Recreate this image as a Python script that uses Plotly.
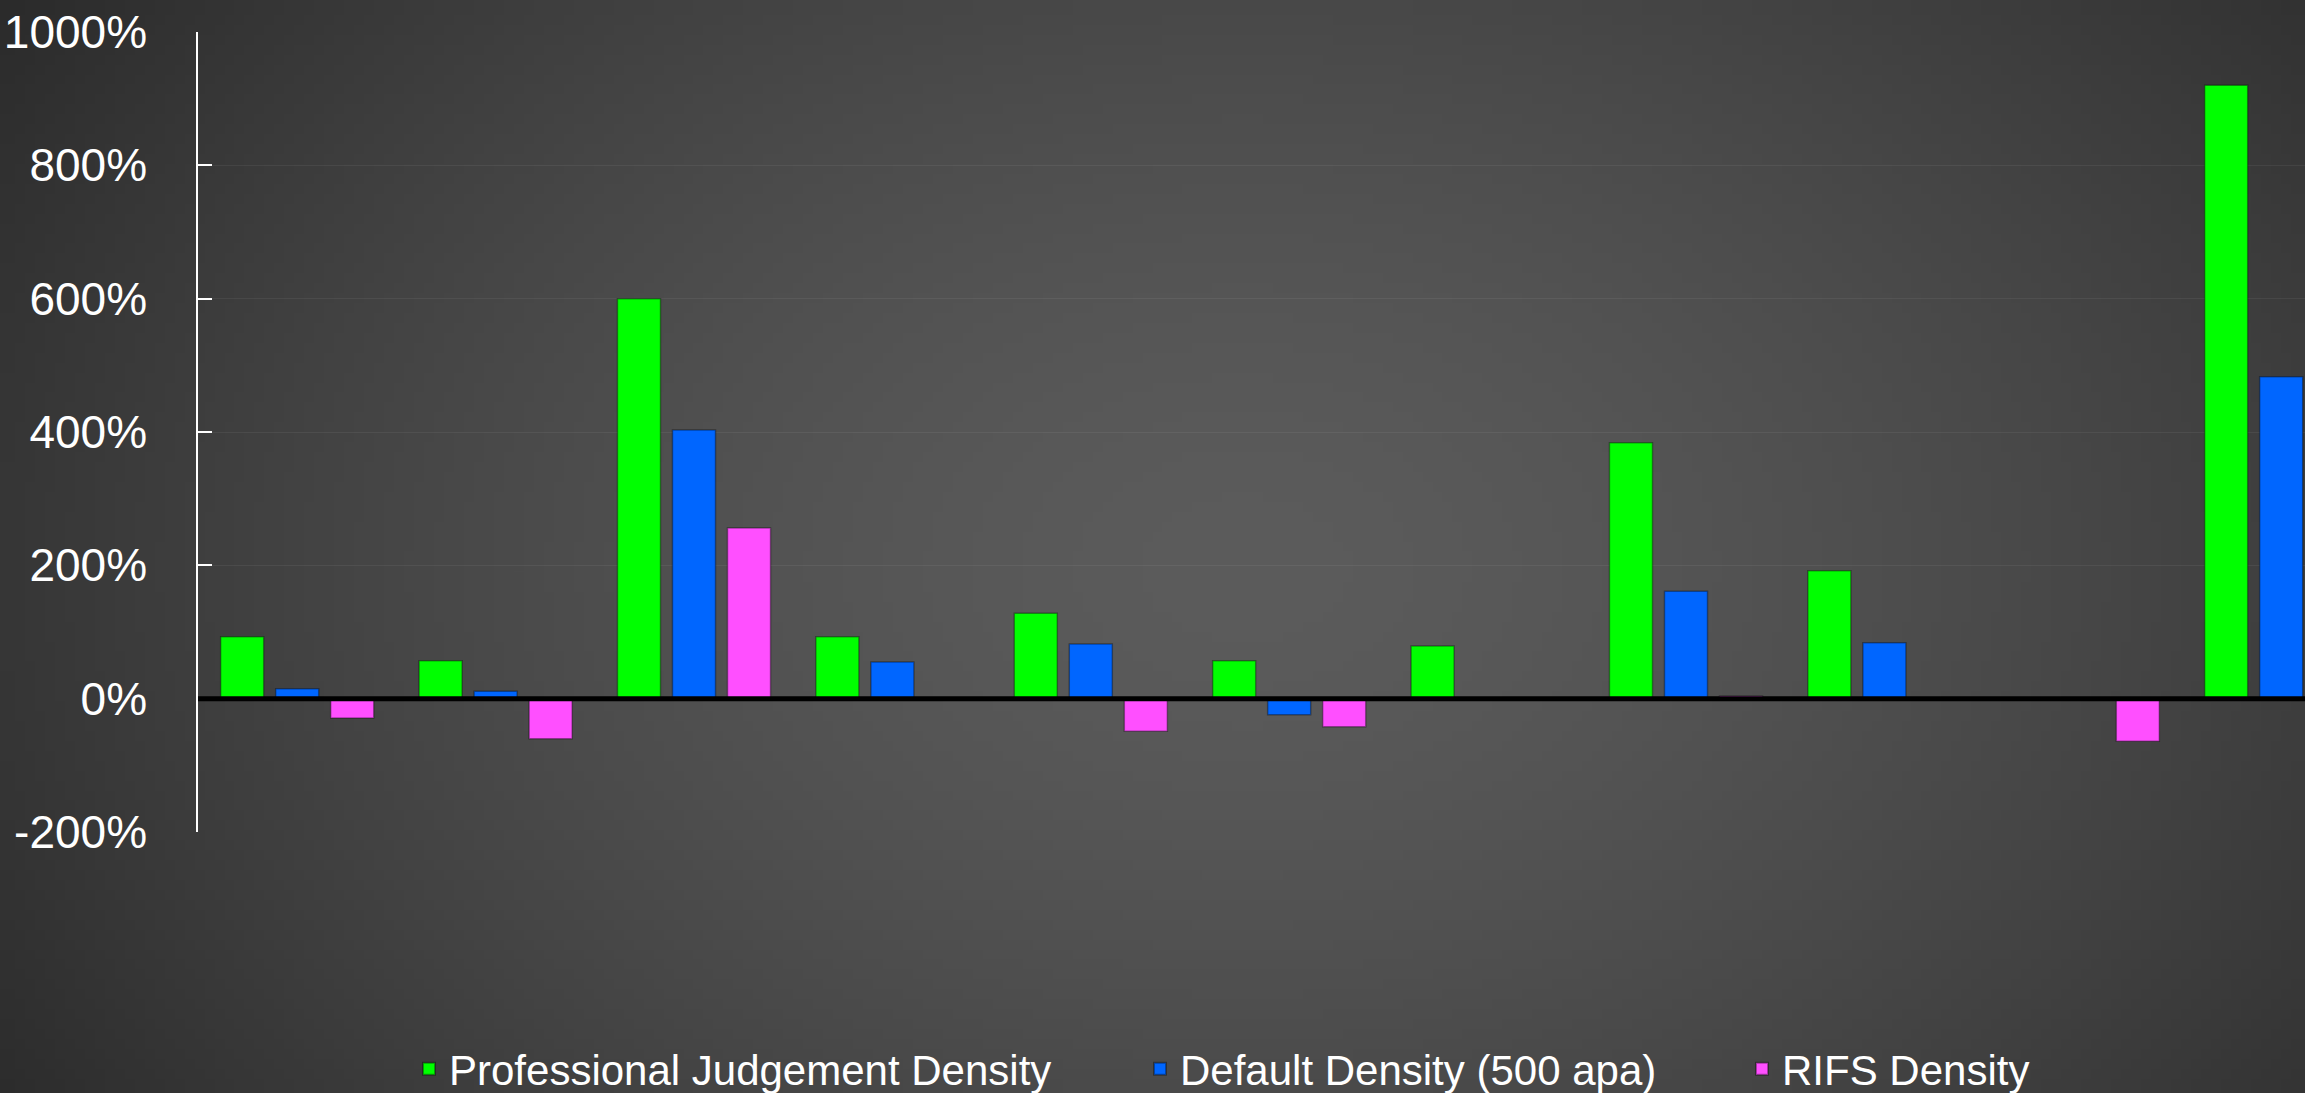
import base64, struct, zlib
import numpy as np
import plotly.graph_objects as go

# ---------------- data (percent) ----------------
categories = ["1", "2", "3", "4", "5", "6", "7", "8", "9", "10", "11"]
professional = [93, 57, 600, 93, 128, 57, 79, 384, 192, None, 920]
default_500 = [15, 11, 403, 55, 82, -24, None, 161, 84, None, 483]
rifs = [-29, -60, 256, None, -49, -42, None, 4, None, -64, None]
y_ticks = [-200, 0, 200, 400, 600, 800, 1000]
y_tick_labels = ["-200%", "0%", "200%", "400%", "600%", "800%", "1000%"]
series_names = ["Professional Judgement Density", "Default Density (500 apa)", "RIFS Density"]
series_colors = ["#00ff00", "#0066ff", "#ff4fff"]

W, H = 2305, 1093
ML, MR, MT, MB = 198, 0, 32, 261
PW, PH = W - ML - MR, H - MT - MB


# ---------------- radial background as PNG ----------------
def png_gray(arr):
    h, w = arr.shape
    raw = b"".join(b"\x00" + arr[i].tobytes() for i in range(h))

    def chunk(t, d):
        return struct.pack(">I", len(d)) + t + d + struct.pack(">I", zlib.crc32(t + d) & 0xFFFFFFFF)

    return (b"\x89PNG\r\n\x1a\n" + chunk(b"IHDR", struct.pack(">IIBBBBB", w, h, 8, 0, 0, 0, 0))
            + chunk(b"IDAT", zlib.compress(raw, 9)) + chunk(b"IEND", b""))


gw, gh = 231, 110
xx, yy = np.meshgrid(np.linspace(0, 1, gw), np.linspace(0, 1, gh))
d = np.sqrt(((xx - 0.54) / 0.6) ** 2 + ((yy - 0.52) / 0.9) ** 2)
val = np.clip(92 - 44 * np.clip(d, 0, 1.3) ** 1.5, 40, 255).astype(np.uint8)
bg_src = "data:image/png;base64," + base64.b64encode(png_gray(val)).decode()

fig = go.Figure()
legend_ids = ["legend2", "legend3", "legend4"]
for name, vals, color, lg in zip(series_names, [professional, default_500, rifs], series_colors, legend_ids):
    fig.add_trace(go.Bar(
        x=categories, y=vals, name=name, legend=lg,
        marker=dict(color=color, line=dict(color="rgba(0,0,0,0.35)", width=1.5)),
    ))

font_family = "Liberation Sans, Arial, Helvetica, sans-serif"
legend_common = dict(orientation="h", yanchor="middle", y=-(1069 - (MT + PH)) / PH, xanchor="left",
                     bgcolor="rgba(0,0,0,0)", font=dict(size=42, color="white", family=font_family),
                     itemsizing="constant")

fig.update_layout(
    width=W, height=H,
    margin=dict(l=ML, r=MR, t=MT, b=MB, pad=0, autoexpand=False),
    paper_bgcolor="#3c3c3c",
    plot_bgcolor="rgba(0,0,0,0)",
    barmode="group", bargap=0.168, bargroupgap=0.218,
    font=dict(family=font_family, color="white"),
    legend2=dict(legend_common, x=(409 - ML) / PW),
    legend3=dict(legend_common, x=(1140 - ML) / PW),
    legend4=dict(legend_common, x=(1742 - ML) / PW),
    images=[dict(source=bg_src, xref="paper", yref="paper",
                 x=-ML / PW, y=1 + MT / PH, sizex=W / PW, sizey=H / PH,
                 xanchor="left", yanchor="top", sizing="stretch", layer="below")],
    shapes=[dict(type="line", xref="paper", x0=0, x1=1, yref="y", y0=0, y1=0,
                 line=dict(color="black", width=5), layer="above")],
    xaxis=dict(range=[-0.5, 10.12], showticklabels=False, showgrid=False, zeroline=False,
               showline=False, ticks=""),
    yaxis=dict(range=[-200, 1000], tickvals=y_ticks, ticktext=y_tick_labels,
               showline=True, linecolor="white", linewidth=1.5,
               ticks="inside", ticklen=14, tickwidth=1.5, tickcolor="white",
               showgrid=True, gridcolor="rgba(255,255,255,0.06)", gridwidth=1,
               zeroline=False, ticklabelstandoff=40,
               tickfont=dict(size=46, color="white", family=font_family)),
)

fig.write_html(
    "out.html",
    config={"displayModeBar": False},
    post_script=("document.body.style.margin='0';document.body.style.overflow='hidden';"
                 "document.documentElement.style.overflow='hidden';"),
)
